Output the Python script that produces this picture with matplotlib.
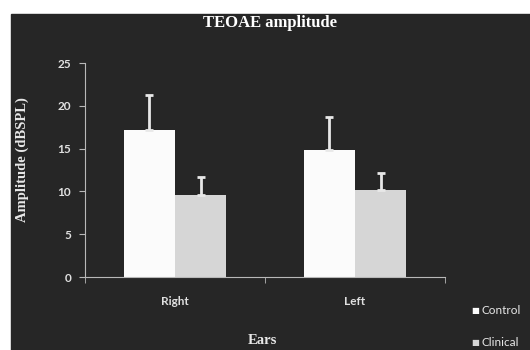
"""TEOAE amplitude bar chart, control vs clinical, by ear."""

import numpy as np
import matplotlib.pyplot as plt
from matplotlib.patches import Rectangle

ears = ["Right", "Left"]
groups = ["Control", "Clinical"]
means = {"Control": [17.2, 14.8], "Clinical": [9.6, 10.2]}
sds = {"Control": [4.1, 3.9], "Clinical": [2.1, 2.0]}
y_ticks = [0, 5, 10, 15, 20, 25]

BG = "#262626"
LINE = "#b8b8b8"
colors = {"Control": "#fbfbfb", "Clinical": "#d6d6d6"}

fig = plt.figure(figsize=(5.3, 3.5), dpi=100, facecolor="white")
fig.patches.append(Rectangle((11 / 530, 0), 1, 1 - 14 / 350,
                             transform=fig.transFigure, color=BG, zorder=-1))

ax = fig.add_axes([85 / 530, 1 - 277 / 350, 360 / 530, 214 / 350])
ax.set_facecolor(BG)

x = np.arange(len(ears))
width = 0.285
for i, g in enumerate(groups):
    pos = x + (i - 0.5) * width
    ax.bar(pos, means[g], width, color=colors[g], zorder=2)
    ax.errorbar(pos, means[g], yerr=[np.zeros(len(ears)), sds[g]],
                fmt="none", ecolor="#e8e8e8", elinewidth=2, capsize=3,
                capthick=2, zorder=3)

ax.set_xlim(-0.5, 1.5)
ax.set_ylim(0, 25)
ax.set_yticks(y_ticks)
ax.set_xticks(x)
ax.set_xticklabels(ears)
ax.set_xticks([-0.5, 0.5, 1.5], minor=True)
ax.tick_params(axis="x", which="major", length=0, pad=14)
ax.tick_params(axis="x", which="minor", length=4, color=LINE)
ax.tick_params(axis="y", length=4, color=LINE, pad=6)
for lab in ax.get_xticklabels() + ax.get_yticklabels():
    lab.set_color("#e0e0e0")
    lab.set_fontsize(8.5)
    lab.set_fontweight("bold")
    lab.set_family("Lato")

for side in ["top", "right"]:
    ax.spines[side].set_visible(False)
for side in ["left", "bottom"]:
    ax.spines[side].set_color(LINE)

fig.text(270 / 530, 1 - 23 / 350, "TEOAE amplitude", ha="center", va="center",
         color="white", fontsize=12, fontweight="bold",
         family="Liberation Serif")
fig.text(22 / 530, 1 - 160 / 350, "Amplitude (dBSPL)", ha="center",
         va="center", rotation=90, color="#e8e8e8", fontsize=10.5,
         fontweight="bold", family="Liberation Serif")
fig.text(262 / 530, 1 - 341 / 350, "Ears", ha="center", va="center",
         color="#e8e8e8", fontsize=10.5, fontweight="bold",
         family="Liberation Serif")

for g, yy in zip(groups, [311, 342]):
    fig.text(471 / 530, 1 - yy / 350, "\u25a0", ha="left", va="center",
             color=colors[g], fontsize=6, family="DejaVu Sans")
    fig.text(481 / 530, 1 - yy / 350, g, ha="left", va="center",
             color="#e8e8e8", fontsize=8.5, family="Lato")

plt.savefig("out.png", dpi=100, facecolor=fig.get_facecolor())
